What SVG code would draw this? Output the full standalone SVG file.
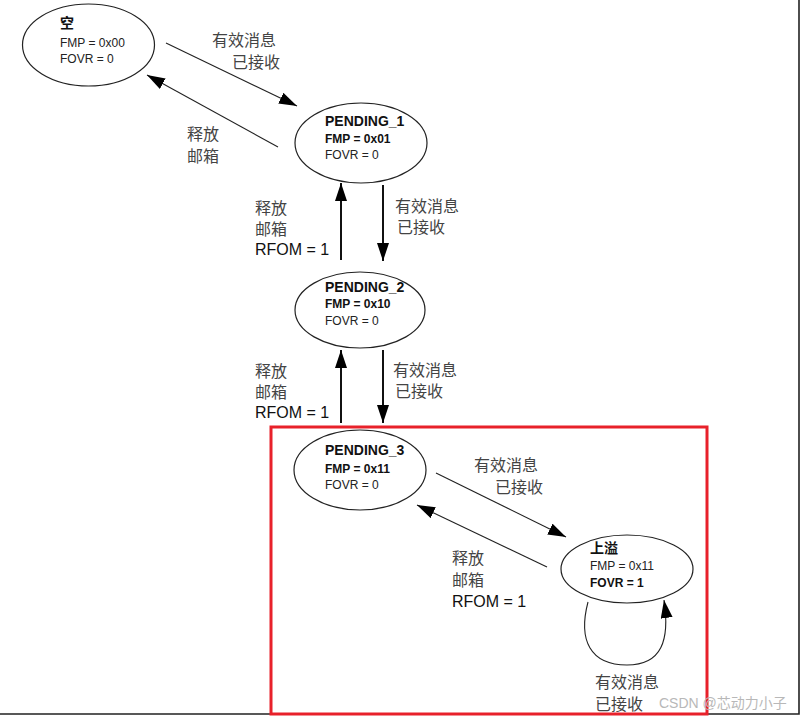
<svg xmlns="http://www.w3.org/2000/svg" width="802" height="718" viewBox="0 0 802 718">
<style>
.node{fill:#fff;stroke:#222;stroke-width:1.2}
.title{font-family:"Liberation Sans","Noto Sans CJK SC",sans-serif;font-size:14px;font-weight:bold;fill:#111}
.t{font-family:"Liberation Sans","Noto Sans CJK SC",sans-serif;font-size:12px;fill:#222}
.tb{font-family:"Liberation Sans","Noto Sans CJK SC",sans-serif;font-size:12px;font-weight:bold;fill:#111}
.lbl{font-family:"Noto Sans CJK SC",sans-serif;font-size:16px;fill:#444}
.lbla{font-family:"Liberation Sans",sans-serif;font-size:16px;fill:#111}
.e{fill:none;stroke:#222;stroke-width:1.1}
.ev{fill:none;stroke:#111;stroke-width:2}
.wm{font-family:"Liberation Sans","Noto Sans CJK SC",sans-serif;font-size:14px;fill:#b8b8b8}
</style>
<defs>
<marker id="ah" markerUnits="userSpaceOnUse" markerWidth="18" markerHeight="12" refX="18" refY="6" orient="auto">
<path d="M0,0 L18,6 L0,12 z" fill="#000"/>
</marker>
</defs>
<rect width="802" height="718" fill="#fff"/>
<g id="frame">
<path d="M0,714 L799,714 L799,0" fill="none" stroke="#222" stroke-width="1.6"/>
<rect x="271" y="427" width="436" height="287" fill="none" stroke="#e8212a" stroke-width="3"/>
</g>
<g id="connectors">
<line class="e" x1="166" y1="43" x2="297" y2="106" marker-end="url(#ah)"/>
<line class="e" x1="278" y1="147" x2="147" y2="75" marker-end="url(#ah)"/>
<line class="ev" x1="341" y1="260" x2="341" y2="183" marker-end="url(#ah)"/>
<line class="ev" x1="383" y1="185" x2="383" y2="261" marker-end="url(#ah)"/>
<line class="ev" x1="341" y1="423" x2="341" y2="350" marker-end="url(#ah)"/>
<line class="ev" x1="383" y1="350" x2="383" y2="423" marker-end="url(#ah)"/>
<line class="e" x1="436" y1="473" x2="566" y2="537" marker-end="url(#ah)"/>
<line class="e" x1="547" y1="567" x2="417" y2="505" marker-end="url(#ah)"/>
<path class="e" d="M588,602 C578,640 590,665 627,665 C662,665 670,640 664,600" marker-end="url(#ah)"/>
<text class="lbl" x="212" y="46">有效消息</text>
<text class="lbl" x="232" y="68">已接收</text>
<text class="lbl" x="187" y="140">释放</text>
<text class="lbl" x="187" y="162">邮箱</text>
<text class="lbl" x="255" y="214">释放</text>
<text class="lbl" x="255" y="235">邮箱</text>
<text class="lbla" x="255" y="255">RFOM = 1</text>
<text class="lbl" x="395" y="212">有效消息</text>
<text class="lbl" x="397" y="233">已接收</text>
<text class="lbl" x="255" y="377">释放</text>
<text class="lbl" x="255" y="398">邮箱</text>
<text class="lbla" x="255" y="418">RFOM = 1</text>
<text class="lbl" x="393" y="376">有效消息</text>
<text class="lbl" x="395" y="397">已接收</text>
<text class="lbl" x="474" y="471">有效消息</text>
<text class="lbl" x="495" y="493">已接收</text>
<text class="lbl" x="452" y="564">释放</text>
<text class="lbl" x="452" y="586">邮箱</text>
<text class="lbla" x="452" y="607">RFOM = 1</text>
<text class="lbl" x="595" y="688">有效消息</text>
<text class="lbl" x="595" y="710">已接收</text>
</g>
<g id="empty">
<ellipse class="node" cx="88.5" cy="45" rx="66" ry="41"/>
<text class="title" x="60" y="28">空</text>
<text class="t" x="60" y="47">FMP = 0x00</text>
<text class="t" x="60" y="63">FOVR = 0</text>
</g>
<g id="pending1">
<ellipse class="node" cx="361" cy="143" rx="66" ry="40"/>
<text class="title" x="325" y="126">PENDING_1</text>
<text class="tb" x="325" y="143">FMP = 0x01</text>
<text class="t" x="325" y="159">FOVR = 0</text>
</g>
<g id="pending2">
<ellipse class="node" cx="360" cy="310" rx="65" ry="38"/>
<text class="title" x="325" y="292">PENDING_2</text>
<text class="tb" x="325" y="308">FMP = 0x10</text>
<text class="t" x="325" y="325">FOVR = 0</text>
</g>
<g id="pending3">
<ellipse class="node" cx="360" cy="470" rx="66" ry="40"/>
<text class="title" x="325" y="455">PENDING_3</text>
<text class="tb" x="325" y="473">FMP = 0x11</text>
<text class="t" x="325" y="489">FOVR = 0</text>
</g>
<g id="overflow">
<ellipse class="node" cx="627" cy="569" rx="66" ry="34"/>
<text class="title" x="590" y="553">上溢</text>
<text class="t" x="590" y="570">FMP = 0x11</text>
<text class="tb" x="590" y="587">FOVR = 1</text>
</g>
<text class="wm" x="659" y="708">CSDN @芯动力小子</text>
</svg>
